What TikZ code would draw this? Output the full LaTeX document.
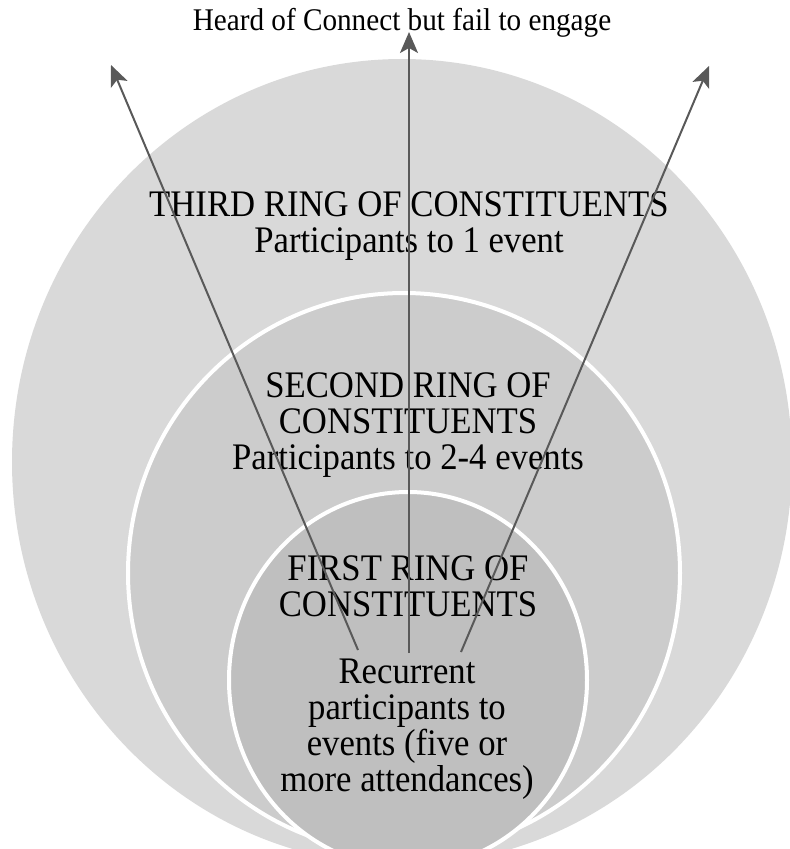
\documentclass[tikz,border=0pt]{standalone}
\usepackage{fontspec}
\setmainfont{Liberation Serif}
\usetikzlibrary{arrows.meta}
\definecolor{ringouter}{HTML}{D9D9D9}
\definecolor{ringmiddle}{HTML}{CCCCCC}
\definecolor{ringinner}{HTML}{BFBFBF}
\definecolor{arrowgray}{HTML}{595959}
\newcommand{\tallt}[1]{\scalebox{1}[1.08]{#1}}
\begin{document}
\begin{tikzpicture}[x=1pt,y=-1pt,
  ringtext/.style={inner sep=0pt,anchor=base,font=\fontsize{34.7}{36}\selectfont},
  toptext/.style={inner sep=0pt,anchor=base,font=\fontsize{29.2}{32}\selectfont},
  ringborder/.style={draw=white,line width=4pt},
  conn/.style={draw=arrowgray,line width=2pt,-{Stealth[length=21pt,width=18pt,inset=5pt]}}]
\useasboundingbox (0,0) rectangle (790,849);
\begin{scope}
  \clip (0,0) rectangle (790,849);
  \path[fill=ringouter] (402,462) ellipse [x radius=390, y radius=403];
  \path[fill=ringmiddle,ringborder] (404,573) ellipse [x radius=276, y radius=280];
  \path[fill=ringinner,ringborder] (408,680) ellipse [x radius=179, y radius=188];
\end{scope}
% texts
\node[toptext] (head) at (402,30) {\tallt{Heard of Connect but fail to engage}};
\node[ringtext] (t3a) at (409,216) {\tallt{THIRD RING OF CONSTITUENTS}};
\node[ringtext] (t3b) at (409,252) {\tallt{Participants to 1 event}};
\node[ringtext] (t2a) at (408,397) {\tallt{SECOND RING OF}};
\node[ringtext] (t2b) at (408,433) {\tallt{CONSTITUENTS}};
\node[ringtext] (t2c) at (408,469) {\tallt{Participants to 2-4 events}};
\node[ringtext] (t1a) at (408,580) {\tallt{FIRST RING OF}};
\node[ringtext] (t1b) at (408,616) {\tallt{CONSTITUENTS}};
\node[ringtext] (t1c) at (407,683) {\tallt{Recurrent}};
\node[ringtext] (t1d) at (407,719) {\tallt{participants to}};
\node[ringtext] (t1e) at (407,755) {\tallt{events (five or}};
\node[ringtext] (t1f) at (407,791) {\tallt{more attendances)}};
% arrows
\coordinate (ls) at (358,650);
\coordinate (lt) at (111,65);
\coordinate (cs) at (409,653);
\coordinate (ct) at (409,32);
\coordinate (rs) at (461,652);
\coordinate (rt) at (709,66);
\draw[conn] (ls) -- (lt);
\draw[conn] (cs) -- (ct);
\draw[conn] (rs) -- (rt);
\end{tikzpicture}
\end{document}
